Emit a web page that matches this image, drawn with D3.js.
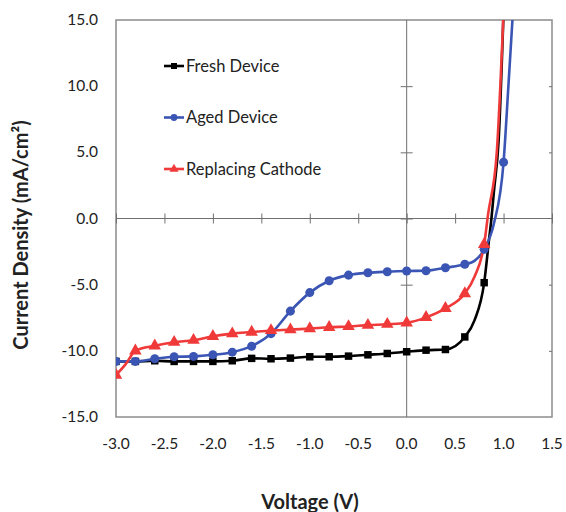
<!DOCTYPE html>
<html>
<head>
<meta charset="utf-8">
<script src="https://cdn.jsdelivr.net/npm/d3@7"></script>
<style>
  body { margin: 0; background: #fff; }
  text { font-family: Lato, "Open Sans", sans-serif; fill: #222; }
</style>
</head>
<body>
<svg id="chart" width="566" height="512"></svg>
<script>
// J–V sweeps (voltage in V, current density in mA/cm²)
const freshV = [-3.0,-2.8,-2.6,-2.4,-2.2,-2.0,-1.8,-1.6,-1.4,-1.2,-1.0,-0.8,-0.6,-0.4,-0.2,0.0,0.2,0.4,0.6,0.7,0.8,0.85,0.875,0.9,0.95,1.0];
const freshJ = [-10.8,-10.8,-10.75,-10.8,-10.8,-10.8,-10.75,-10.57,-10.6,-10.55,-10.45,-10.45,-10.4,-10.3,-10.2,-10.07,-9.95,-9.9,-8.95,-7.7,-4.85,-1.6,0,2.0,6.0,15.6];

const agedV = [-3.0,-2.8,-2.6,-2.4,-2.2,-2.0,-1.8,-1.6,-1.4,-1.2,-1.0,-0.8,-0.6,-0.4,-0.2,0.0,0.2,0.4,0.6,0.7,0.8,0.9,1.0,1.05,1.1];
const agedJ = [-10.8,-10.8,-10.6,-10.45,-10.42,-10.3,-10.1,-9.65,-8.7,-7.0,-5.6,-4.7,-4.28,-4.1,-4.02,-3.97,-3.95,-3.72,-3.46,-3.2,-2.33,-0.4,4.25,10.0,16.0];

const replacedV = [-3.0,-2.9,-2.8,-2.6,-2.4,-2.2,-2.0,-1.8,-1.6,-1.4,-1.2,-1.0,-0.8,-0.6,-0.4,-0.2,0.0,0.2,0.4,0.6,0.7,0.8,0.84,0.93,1.0];
const replacedJ = [-11.83,-11.0,-10.0,-9.62,-9.35,-9.2,-8.9,-8.7,-8.58,-8.46,-8.4,-8.32,-8.22,-8.16,-8.06,-7.99,-7.88,-7.47,-6.79,-5.67,-4.4,-1.95,0.3,5.0,15.6];

const seriesNames = ["Fresh Device", "Aged Device", "Replacing Cathode"];
const seriesColors = ["#000000", "#3a55b4", "#f03a3a"];
const seriesSymbols = [d3.symbolSquare, d3.symbolCircle, d3.symbolTriangle];

const xTicks = [-3.0,-2.5,-2.0,-1.5,-1.0,-0.5,0.0,0.5,1.0,1.5];
const yTicks = [-15,-10,-5,0,5,10,15];

const series = [
  { v: freshV, j: freshJ },
  { v: agedV, j: agedJ },
  { v: replacedV, j: replacedJ }
].map((s, i) => ({
  name: seriesNames[i], color: seriesColors[i], symbol: seriesSymbols[i],
  points: s.v.map((v, k) => ({ v, j: s.j[k] }))
}));

const plot = { left: 116, top: 20, right: 552, bottom: 417 };
const x = d3.scaleLinear().domain([-3, 1.5]).range([plot.left, plot.right]);
const y = d3.scaleLinear().domain([-15, 15]).range([plot.bottom, plot.top]);

// one decimal, plain hyphen for negatives
const fmt = d => d.toFixed(1);

const svg = d3.select("#chart");

svg.append("defs").append("clipPath").attr("id", "plot-clip")
  .append("rect")
  .attr("x", plot.left).attr("y", plot.top)
  .attr("width", plot.right - plot.left).attr("height", plot.bottom - plot.top);

// Plot frame
svg.append("rect")
  .attr("x", plot.left).attr("y", plot.top)
  .attr("width", plot.right - plot.left).attr("height", plot.bottom - plot.top)
  .attr("fill", "none").attr("stroke", "#8c8c8c").attr("stroke-width", 1.5);

// Axes crossing at the origin, with ticks straddling the lines
const xAxis = d3.axisBottom(x).tickValues(xTicks).tickSize(10).tickFormat("");
svg.append("g")
  .attr("transform", `translate(0,${y(0) - 5})`)
  .call(xAxis)
  .call(g => g.select(".domain").remove())
  .call(g => g.selectAll(".tick line").attr("stroke", "#707070"));
svg.append("line")
  .attr("x1", plot.left).attr("x2", plot.right)
  .attr("y1", y(0)).attr("y2", y(0))
  .attr("stroke", "#707070").attr("stroke-width", 1);

const yAxis = d3.axisLeft(y).tickValues(yTicks.filter(t => Math.abs(t) < 15)).tickSize(12).tickFormat("");
svg.append("g")
  .attr("transform", `translate(${x(0) + 6},0)`)
  .call(yAxis)
  .call(g => g.select(".domain").remove())
  .call(g => g.selectAll(".tick line").attr("stroke", "#707070"));
svg.append("line")
  .attr("x1", x(0)).attr("x2", x(0))
  .attr("y1", plot.top).attr("y2", plot.bottom)
  .attr("stroke", "#707070").attr("stroke-width", 1);

// Small inward ticks on the right edge of the frame
const yAxisRight = d3.axisLeft(y).tickValues(yTicks.filter(t => t !== 0 && Math.abs(t) < 15)).tickSize(3).tickFormat("");
svg.append("g")
  .attr("transform", `translate(${plot.right},0)`)
  .call(yAxisRight)
  .call(g => g.select(".domain").remove())
  .call(g => g.selectAll(".tick line").attr("stroke", "#707070"));

// Tick labels
svg.append("g").selectAll("text").data(xTicks).join("text")
  .attr("x", d => x(d)).attr("y", 449)
  .attr("text-anchor", "middle").attr("font-size", 15.5)
  .text(fmt);
svg.append("g").selectAll("text").data(yTicks).join("text")
  .attr("x", 98).attr("y", d => y(d) + 5)
  .attr("text-anchor", "end").attr("font-size", 15.5)
  .text(fmt);

// Axis titles
svg.append("text")
  .attr("x", 310).attr("y", 509)
  .attr("text-anchor", "middle").attr("font-size", 20).attr("font-weight", "bold")
  .text("Voltage (V)");
svg.append("text")
  .attr("transform", "translate(28,235) rotate(-90)")
  .attr("text-anchor", "middle").attr("font-size", 20).attr("font-weight", "bold")
  .text("Current Density (mA/cm²)");

// Curves and markers
const line = d3.line()
  .x(d => x(d.v)).y(d => y(d.j))
  .curve(d3.curveMonotoneX);

const isMarked = d => Math.abs(d.v * 5 - Math.round(d.v * 5)) < 1e-6;

const plotArea = svg.append("g").attr("clip-path", "url(#plot-clip)");
series.forEach(s => {
  plotArea.append("path")
    .datum(s.points)
    .attr("d", line)
    .attr("fill", "none")
    .attr("stroke", s.color)
    .attr("stroke-width", 2.6)
    .attr("stroke-linejoin", "round");
});
series.forEach(s => {
  const size = s.symbol === d3.symbolTriangle ? 68 : s.symbol === d3.symbolSquare ? 56 : 64;
  plotArea.append("g").selectAll("path")
    .data(s.points.filter(isMarked))
    .join("path")
    .attr("transform", d => `translate(${x(d.v)},${y(d.j)})`)
    .attr("d", d3.symbol().type(s.symbol).size(size))
    .attr("fill", s.color);
});

// Legend
const legend = svg.append("g");
series.forEach((s, i) => {
  const ly = 66 + i * 51.5;
  legend.append("line")
    .attr("x1", 164).attr("x2", 184).attr("y1", ly).attr("y2", ly)
    .attr("stroke", s.color).attr("stroke-width", 2.6);
  legend.append("path")
    .attr("transform", `translate(174,${ly})`)
    .attr("d", d3.symbol().type(s.symbol).size(36))
    .attr("fill", s.color);
  legend.append("text")
    .attr("x", 186).attr("y", ly + 5.5)
    .attr("font-size", 16.5)
    .text(s.name);
});
</script>
</body>
</html>
